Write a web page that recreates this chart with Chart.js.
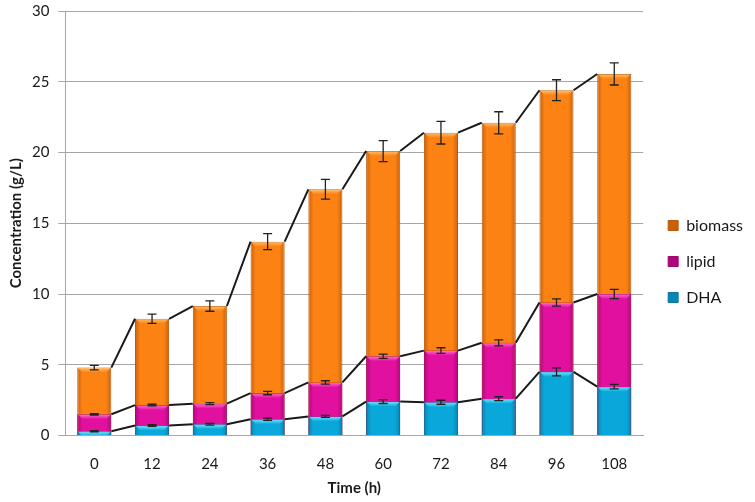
<!DOCTYPE html>
<html>
<head>
<meta charset="utf-8">
<script src="https://cdn.jsdelivr.net/npm/chart.js@4.4.1/dist/chart.umd.min.js"></script>
<style>
  html, body { margin: 0; padding: 0; background: #ffffff; }
  #wrap { width: 755px; height: 502px; position: relative; }
</style>
</head>
<body>
<div id="wrap"><canvas id="c" width="755" height="502"></canvas></div>
<script>
// ---- data ----
const times = ['0', '12', '24', '36', '48', '60', '72', '84', '96', '108'];
const biomass = [4.8, 8.25, 9.15, 13.7, 17.4, 20.1, 21.4, 22.1, 24.4, 25.55];
const lipid = [1.5, 2.15, 2.25, 3.0, 3.75, 5.6, 6.0, 6.55, 9.4, 10.0];
const dha = [0.3, 0.7, 0.8, 1.15, 1.35, 2.4, 2.35, 2.6, 4.5, 3.45];
const biomassErr = [0.16, 0.33, 0.37, 0.56, 0.7, 0.74, 0.8, 0.78, 0.74, 0.78];
const lipidErr = [0.05, 0.06, 0.07, 0.12, 0.12, 0.15, 0.2, 0.21, 0.26, 0.33];
const dhaErr = [0.05, 0.06, 0.06, 0.08, 0.07, 0.14, 0.14, 0.14, 0.28, 0.16];
const yTicks = [0, 5, 10, 15, 20, 25, 30];

const FONT = 'Lato, "Open Sans", "Liberation Sans", sans-serif';
const BAR_FRACTION = 0.59;

function barGradient(edge, mid) {
  return function (ctx) {
    const chart = ctx.chart;
    const area = chart.chartArea;
    if (!area || ctx.dataIndex === undefined) return mid;
    const xs = chart.scales.x;
    const cx = xs.getPixelForValue(ctx.dataIndex);
    const w = (area.width / times.length) * BAR_FRACTION;
    const g = chart.ctx.createLinearGradient(cx - w / 2, 0, cx + w / 2, 0);
    g.addColorStop(0, edge);
    g.addColorStop(0.15, mid);
    g.addColorStop(0.85, mid);
    g.addColorStop(1, edge);
    return g;
  };
}

const topBevel = {
  id: 'topBevel',
  afterDatasetDraw(chart, args) {
    const ds = chart.data.datasets[args.index];
    if (!ds.bevel) return;
    const ctx = chart.ctx;
    ctx.save();
    args.meta.data.forEach((bar) => {
      const l = bar.x - bar.width / 2 + 1, r = bar.x + bar.width / 2 - 1;
      const h = 5;
      const g = ctx.createLinearGradient(0, bar.y, 0, bar.y + h);
      g.addColorStop(0, ds.bevel);
      g.addColorStop(1, ds.bevel + '00');
      ctx.fillStyle = g;
      ctx.beginPath();
      ctx.moveTo(l, bar.y + 0.5);
      ctx.lineTo(r, bar.y + 0.5);
      ctx.lineTo(r - 4, bar.y + h);
      ctx.lineTo(l + 4, bar.y + h);
      ctx.closePath();
      ctx.fill();
    });
    ctx.restore();
  }
};

const seriesLinesAndErrors = {
  id: 'seriesLinesAndErrors',
  afterDatasetsDraw(chart) {
    const ctx = chart.ctx;
    const ys = chart.scales.y;
    ctx.save();
    // series lines connecting bar tops (corner to corner)
    ctx.strokeStyle = '#1a1a1a';
    ctx.lineWidth = 2;
    chart.data.datasets.forEach((ds, di) => {
      const bars = chart.getDatasetMeta(di).data;
      ctx.beginPath();
      for (let i = 0; i < bars.length - 1; i++) {
        const a = bars[i], b = bars[i + 1];
        ctx.moveTo(a.x + a.width / 2, a.y);
        ctx.lineTo(b.x - b.width / 2, b.y);
      }
      ctx.stroke();
    });
    // error bars
    ctx.strokeStyle = '#222222';
    ctx.lineWidth = 1.3;
    chart.data.datasets.forEach((ds, di) => {
      const meta = chart.getDatasetMeta(di);
      meta.data.forEach((bar, i) => {
        const v = ds.data[i];
        const e = ds.errors[i];
        const yTop = ys.getPixelForValue(v + e);
        const yBot = ys.getPixelForValue(v - e);
        const x = bar.x;
        ctx.beginPath();
        ctx.moveTo(x, yTop); ctx.lineTo(x, yBot);
        ctx.moveTo(x - 4.5, yTop); ctx.lineTo(x + 4.5, yTop);
        ctx.moveTo(x - 4.5, yBot); ctx.lineTo(x + 4.5, yBot);
        ctx.stroke();
      });
    });
    ctx.restore();
  }
};

new Chart(document.getElementById('c'), {
  type: 'bar',
  data: {
    labels: times,
    datasets: [
      { label: 'biomass', data: biomass, errors: biomassErr, order: 3, bevel: '#ffc070',
        backgroundColor: barGradient('#c9600a', '#fb8213'), borderColor: '#b85a0c', borderWidth: 1 },
      { label: 'lipid', data: lipid, errors: lipidErr, order: 2, bevel: '#ff70d0',
        backgroundColor: barGradient('#b0067a', '#e2109f'), borderColor: '#a00670', borderWidth: 1 },
      { label: 'DHA', data: dha, errors: dhaErr, order: 1, bevel: '#70e8ff',
        backgroundColor: barGradient('#0686b2', '#0aa8da'), borderColor: '#0a7aa0', borderWidth: 1 }
    ]
  },
  options: {
    responsive: false,
    animation: false,
    layout: { padding: { top: 0, right: 2, bottom: 3, left: 3 } },
    datasets: { bar: { categoryPercentage: 1.0, barPercentage: BAR_FRACTION } },
    plugins: {
      tooltip: { enabled: false },
      legend: {
        position: 'right',
        align: 'center',
        title: { display: true, text: '', font: { size: 10 }, padding: 6 },
        labels: {
          sort: (a, b) => a.datasetIndex - b.datasetIndex,
          boxWidth: 10, boxHeight: 10, padding: 20,
          color: '#1a1a1a',
          font: { family: FONT, size: 16 }
        }
      }
    },
    scales: {
      x: {
        stacked: true,
        grid: { display: true, drawOnChartArea: false, drawTicks: false },
        border: { display: true, color: '#a6a6a6' },
        ticks: { color: '#1a1a1a', font: { family: FONT, size: 15 }, padding: 20 },
        title: { display: true, text: 'Time (h)', color: '#1a1a1a',
                 font: { family: FONT, size: 15, weight: 'bold', lineHeight: 1.0 }, padding: { top: -13, bottom: 3.5 } }
      },
      y: {
        stacked: false,
        min: 0, max: 30,
        afterBuildTicks: (s) => { s.ticks = yTicks.map(v => ({ value: v })); },
        grid: { color: '#a6a6a6', lineWidth: 1, tickLength: 14, tickBorderDash: [0, 7, 7, 100] },
        border: { display: true, color: '#a6a6a6' },
        ticks: { color: '#1a1a1a', font: { family: FONT, size: 15 }, padding: 2 },
        title: { display: true, text: 'Concentration (g/L)', color: '#1a1a1a',
                 font: { family: FONT, size: 15, weight: 'bold' }, padding: { top: 4, bottom: 5 } }
      },
      gap: {
        position: 'right',
        display: true,
        grid: { display: false },
        border: { display: false },
        ticks: { display: false },
        afterFit: (s) => { s.width = 5; }
      }
    }
  },
  plugins: [topBevel, seriesLinesAndErrors]
});
</script>
</body>
</html>
